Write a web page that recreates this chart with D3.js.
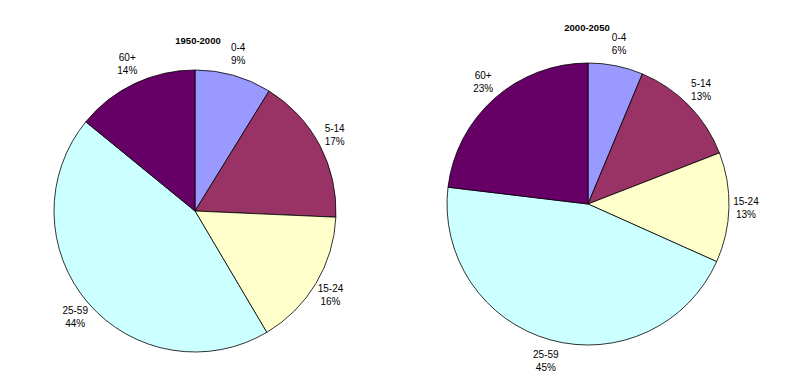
<!DOCTYPE html>
<html><head><meta charset="utf-8">
<script src="https://cdn.jsdelivr.net/npm/d3@7"></script>
<style>body{margin:0;background:#fff}svg{display:block}</style>
</head><body>
<script>
const categories = ["0-4", "5-14", "15-24", "25-59", "60+"];
const titles = ["1950-2000", "2000-2050"];
const values1950 = [8.8, 16.9, 15.8, 44.4, 14.1];
const values2000 = [6.3, 12.8, 12.6, 45.2, 23.1];
const colors = ["#9999FF", "#993366", "#FFFFCC", "#CCFFFF", "#660066"];

const W = 792, H = 392;
const svg = d3.select("body").append("svg").attr("width", W).attr("height", H);

const pies = [
  {title: titles[0], values: values1950, cx: 195, cy: 211, r: 141, tx: 198, ty: 44},
  {title: titles[1], values: values2000, cx: 588, cy: 204, r: 141, tx: 587, ty: 31}
];

const color = d3.scaleOrdinal().domain(categories).range(colors);
const pieGen = d3.pie().sort(null).value(d => d.v);

pies.forEach(p => {
  const data = categories.map((c, i) => ({c, v: p.values[i]}));
  const arcs = pieGen(data);
  const total = d3.sum(p.values);
  const arc = d3.arc().innerRadius(0).outerRadius(p.r);
  const g = svg.append("g").attr("transform", `translate(${p.cx},${p.cy})`);
  g.selectAll("path").data(arcs).join("path")
    .attr("d", arc)
    .attr("fill", d => color(d.data.c))
    .attr("stroke", "#000")
    .attr("stroke-width", 0.8);

  const Rx = 158, Ry = 163;
  const lab = g.selectAll("text.lab").data(arcs).join("text")
    .attr("class", "lab")
    .attr("font-family", "'Liberation Sans', Arial, sans-serif")
    .attr("font-size", 10)
    .attr("fill", "#000")
    .attr("text-anchor", "middle")
    .attr("transform", d => {
      const a = (d.startAngle + d.endAngle) / 2;
      return `translate(${Math.sin(a) * Rx},${-Math.cos(a) * Ry})`;
    });
  lab.append("tspan").attr("x", 0).attr("y", -3).text(d => d.data.c);
  lab.append("tspan").attr("x", 0).attr("y", 10).text(d => Math.round(d.data.v / total * 100) + "%");

  svg.append("text")
    .attr("x", p.tx).attr("y", p.ty)
    .attr("text-anchor", "middle")
    .attr("font-family", "'Liberation Sans', Arial, sans-serif")
    .attr("font-size", 9.5)
    .attr("font-weight", "bold")
    .text(p.title);
});
</script>
</body></html>
